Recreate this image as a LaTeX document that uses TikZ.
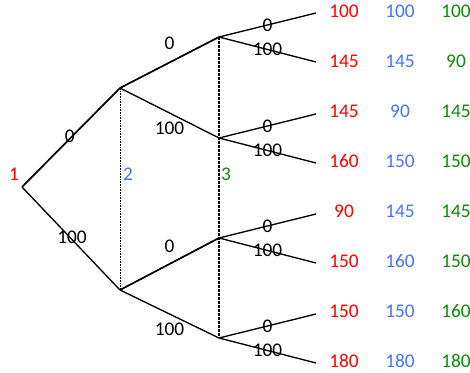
\documentclass[tikz,border=0pt]{standalone}
\usepackage{fontspec}
\setmainfont{Carlito}
\definecolor{pred}{RGB}{255,0,0}
\definecolor{pblue}{RGB}{70,115,255}
\definecolor{pgreen}{RGB}{10,140,10}
\begin{document}
\begin{tikzpicture}[x=0.75pt, y=-0.75pt, font=\fontsize{14.5}{17}\selectfont,
    branch/.style={line width=1.3pt},
    twig/.style={line width=1pt},
    info/.style={dash pattern=on 1.2pt off 0.8pt, line width=0.7pt},
    infobold/.style={dash pattern=on 2pt off 1pt, line width=1.4pt},
    lab/.style={inner sep=0pt}]
  \useasboundingbox (0,0) rectangle (470,373);
  \coordinate (n1) at (22,187);
  \coordinate (n2u) at (120,88);
  \coordinate (n2l) at (120,290);
  \foreach \n/\y in {a/37, b/138, c/238, d/338} {
    \coordinate (n3\n) at (219,\y);
  }
  \draw[info] (n2u) -- (n2l);
  \draw[infobold] (n3a) -- (n3d);
  \draw[branch] (n1) -- node[lab, xshift=-1pt, yshift=1pt] {0} (n2u);
  \draw[twig] (n1) -- node[lab, pos=0.51, yshift=2pt] {100} (n2l);
  \draw[branch] (n2u) -- node[lab, above=9pt] {0} (n3a);
  \draw[twig] (n2u) -- node[lab, below=6pt] {100} (n3b);
  \draw[branch] (n2l) -- node[lab, above=8pt] {0} (n3c);
  \draw[twig] (n2l) -- node[lab, below=6pt] {100} (n3d);
  \foreach \n/\y in {a/37, b/138, c/238, d/338} {
    \coordinate (l\n0) at (316,\y-24);
    \coordinate (l\n1) at (316,\y+25);
    \draw[twig] (n3\n) -- node[lab] {0} (l\n0);
    \draw[twig] (n3\n) -- node[lab] {100} (l\n1);
  }
  \node[text=pred] (t1) at (14,174) {1};
  \node[text=pblue] (t2) at (128,174) {2};
  \node[text=pgreen] (t3) at (226,174) {3};
  \foreach \y/\a/\b/\c [count=\i] in {11/100/100/100, 61/145/145/90, 111/145/90/145, 161/160/150/150,
      211/90/145/145, 261/150/160/150, 311/150/150/160, 361/180/180/180} {
    \node[text=pred] (p\i a) at (344,\y) {\a};
    \node[text=pblue] (p\i b) at (400,\y) {\b};
    \node[text=pgreen] (p\i c) at (456,\y) {\c};
  }
\end{tikzpicture}
\end{document}
